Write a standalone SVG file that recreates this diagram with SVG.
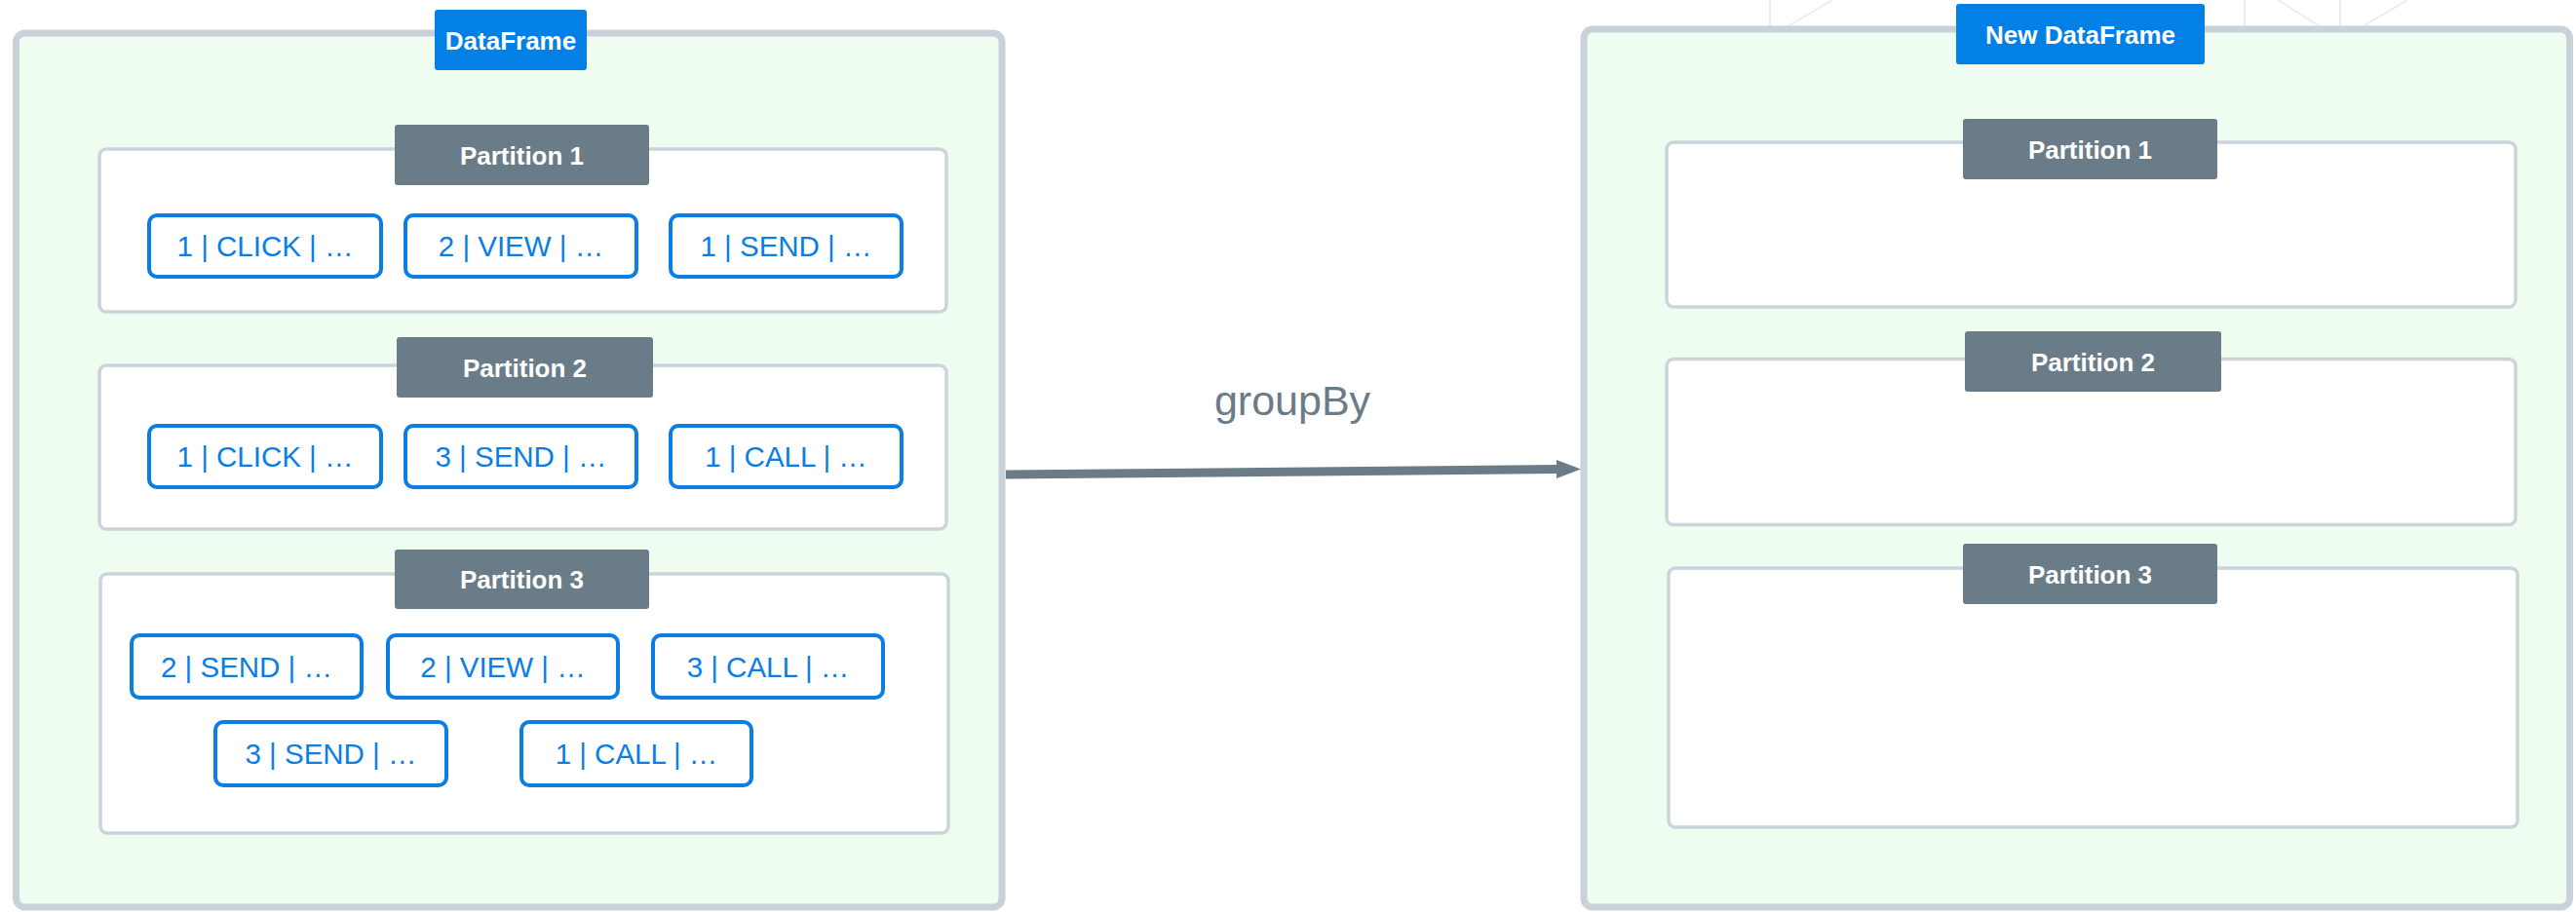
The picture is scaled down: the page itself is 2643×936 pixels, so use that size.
<svg xmlns="http://www.w3.org/2000/svg" width="2643" height="936" viewBox="0 0 2643 936">
  <style>
    .frame { fill: #effdf0; stroke: #c9d2d9; stroke-width: 7; }
    .part { fill: #ffffff; stroke: #ccd4db; stroke-width: 3.5; }
    .title { fill: #0380e5; }
    .plabel { fill: #6b7c89; }
    .hdr { font-family: "Liberation Sans", Arial, sans-serif; font-weight: bold; font-size: 26px; fill: #ffffff; text-anchor: middle; }
    .rec rect { fill: #ffffff; stroke: #0a7ee4; stroke-width: 4; }
    .rec text { font-family: "Liberation Sans", Arial, sans-serif; font-size: 29.5px; fill: #0a7ee4; text-anchor: middle; }
    .bg { stroke: #ededed; stroke-width: 2; fill: none; }
    .edge { stroke: #6b7c88; stroke-width: 9; fill: none; }
    .elabel { font-family: "Liberation Sans", Arial, sans-serif; font-size: 43px; fill: #6b7c88; text-anchor: middle; }
  </style>

  <rect width="2643" height="936" fill="#ffffff"/>

  <!-- faint background strokes above the output frame -->
  <g id="background">
    <line class="bg" x1="1816" y1="0" x2="1816" y2="32"/>
    <line class="bg" x1="1826" y1="32" x2="1880" y2="0"/>
    <line class="bg" x1="2303" y1="0" x2="2303" y2="32"/>
    <line class="bg" x1="2337" y1="0" x2="2388" y2="32"/>
    <line class="bg" x1="2401" y1="0" x2="2401" y2="32"/>
    <line class="bg" x1="2416" y1="32" x2="2470" y2="0"/>
  </g>

  <!-- source DataFrame -->
  <g id="dataframe">
    <rect class="frame" x="16.5" y="34" width="1011.5" height="897" rx="9"/>
    <rect class="title" x="446" y="10" width="156" height="62" rx="3"/>
    <text class="hdr" x="524" y="50.5">DataFrame</text>
  </g>

  <g id="df-partition-1">
    <rect class="part" x="102" y="153" width="869" height="167" rx="7"/>
    <rect class="plabel" x="405" y="128" width="261" height="62" rx="3"/>
    <text class="hdr" x="535.5" y="168.5">Partition 1</text>
    <g class="rec">
      <rect x="153" y="221" width="238" height="63" rx="8"/>
      <text x="272" y="263">1 | CLICK | …</text>
      <rect x="416" y="221" width="237" height="63" rx="8"/>
      <text x="534.5" y="263">2 | VIEW | …</text>
      <rect x="688" y="221" width="237" height="63" rx="8"/>
      <text x="806.5" y="263">1 | SEND | …</text>
    </g>
  </g>

  <g id="df-partition-2">
    <rect class="part" x="102" y="375" width="869" height="168" rx="7"/>
    <rect class="plabel" x="407" y="346" width="263" height="62" rx="3"/>
    <text class="hdr" x="538.5" y="386.5">Partition 2</text>
    <g class="rec">
      <rect x="153" y="437" width="238" height="63" rx="8"/>
      <text x="272" y="479">1 | CLICK | …</text>
      <rect x="416" y="437" width="237" height="63" rx="8"/>
      <text x="534.5" y="479">3 | SEND | …</text>
      <rect x="688" y="437" width="237" height="63" rx="8"/>
      <text x="806.5" y="479">1 | CALL | …</text>
    </g>
  </g>

  <g id="df-partition-3">
    <rect class="part" x="103" y="589" width="870" height="266" rx="7"/>
    <rect class="plabel" x="405" y="564" width="261" height="61" rx="3"/>
    <text class="hdr" x="535.5" y="604">Partition 3</text>
    <g class="rec">
      <rect x="135" y="652" width="236" height="64" rx="8"/>
      <text x="253" y="694.5">2 | SEND | …</text>
      <rect x="398" y="652" width="236" height="64" rx="8"/>
      <text x="516" y="694.5">2 | VIEW | …</text>
      <rect x="670" y="652" width="236" height="64" rx="8"/>
      <text x="788" y="694.5">3 | CALL | …</text>
      <rect x="221" y="741" width="237" height="65" rx="8"/>
      <text x="339.5" y="784">3 | SEND | …</text>
      <rect x="535" y="741" width="236" height="65" rx="8"/>
      <text x="653" y="784">1 | CALL | …</text>
    </g>
  </g>

  <!-- resulting DataFrame -->
  <g id="new-dataframe">
    <rect class="frame" x="1625" y="30" width="1011.5" height="901" rx="9"/>
    <rect class="title" x="2007" y="4" width="255" height="62" rx="3"/>
    <text class="hdr" x="2134.5" y="44.5">New DataFrame</text>
  </g>

  <g id="new-partition-1">
    <rect class="part" x="1710" y="146" width="871" height="169" rx="7"/>
    <rect class="plabel" x="2014" y="122" width="261" height="62" rx="3"/>
    <text class="hdr" x="2144.5" y="162.5">Partition 1</text>
  </g>

  <g id="new-partition-2">
    <rect class="part" x="1710" y="368.5" width="871" height="170" rx="7"/>
    <rect class="plabel" x="2016" y="340" width="263" height="62" rx="3"/>
    <text class="hdr" x="2147.5" y="380.5">Partition 2</text>
  </g>

  <g id="new-partition-3">
    <rect class="part" x="1712" y="583" width="871" height="266" rx="7"/>
    <rect class="plabel" x="2014" y="558" width="261" height="62" rx="3"/>
    <text class="hdr" x="2144.5" y="598.5">Partition 3</text>
  </g>

  <!-- groupBy transformation -->
  <g id="connectors">
    <line class="edge" x1="1032" y1="487" x2="1599" y2="481.5"/>
    <polygon points="1597,472 1622,481.5 1597,491" fill="#6b7c88"/>
    <text class="elabel" x="1326" y="426">groupBy</text>
  </g>
</svg>
